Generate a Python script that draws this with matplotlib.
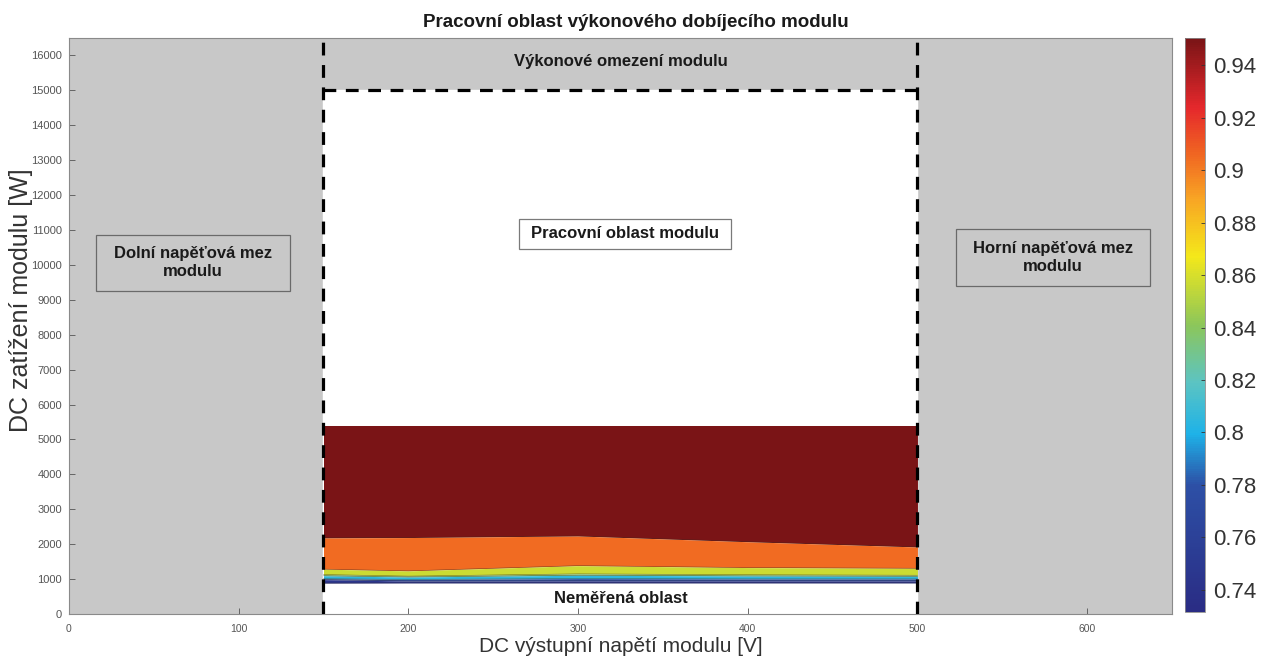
import numpy as np
import matplotlib
matplotlib.use("Agg")
import matplotlib.pyplot as plt
from matplotlib.colors import LinearSegmentedColormap, Normalize
from matplotlib.cm import ScalarMappable
from matplotlib.patches import Rectangle

plt.rcParams['font.family'] = ['Liberation Sans', 'DejaVu Sans']

# Measured operating points: output voltage [V]
voltage = [150, 200, 300, 400, 500]

# Efficiency bands: value of each band and its lower power boundary [W]
band_eff = [0.95, 0.905, 0.857, 0.835, 0.805, 0.78, 0.745]
band_top = [5400, 5400, 5400, 5400, 5400]
band_lower = [
    [2180, 2190, 2235, 2070, 1920],
    [1285, 1235, 1385, 1330, 1310],
    [1130, 1085, 1150, 1125, 1110],
    [1095, 1060, 1110, 1090, 1080],
    [1010, 990, 1015, 1005, 1005],
    [985, 945, 950, 950, 950],
    [885, 890, 890, 890, 890],
]

# Module limits
v_min, v_max = 150, 500
p_max = 15000
x_lim = (0, 650)
y_lim = (0, 16500)
eff_range = (0.7316, 0.9503)
cbar_ticks = [0.74, 0.76, 0.78, 0.80, 0.82, 0.84, 0.86, 0.88, 0.90, 0.92, 0.94]

cmap = LinearSegmentedColormap.from_list("eff", [
    (0.00, "#2a2c84"),
    (0.22, "#2d50a6"),
    (0.31, "#1eb2e8"),
    (0.40, "#5cc4c2"),
    (0.50, "#8cc65a"),
    (0.62, "#f4e81a"),
    (0.72, "#f8a524"),
    (0.80, "#f06522"),
    (0.88, "#e5282c"),
    (1.00, "#7a1416"),
])
norm = Normalize(*eff_range)

fig = plt.figure(figsize=(12.65, 6.6), dpi=100)
ax = fig.add_axes([0.0545, 0.0697, 0.872, 0.8727])
cax = fig.add_axes([0.9368, 0.0727, 0.0158, 0.8697])

grey = "#c8c8c8"
ax.set_xlim(*x_lim)
ax.set_ylim(*y_lim)
ax.set_facecolor(grey)

# working area (white) below the power limit
ax.fill_between([v_min, v_max], 0, p_max, color="white", zorder=1)

# efficiency bands
upper = band_top
for eff, lower in zip(band_eff, band_lower):
    ax.fill_between(voltage, lower, upper, color=cmap(norm(eff)), lw=0, zorder=2)
    ax.plot(voltage, lower, color="#3a2a20", lw=0.4, alpha=0.6, zorder=3)
    upper = lower

# boundaries of the operating area
dash = dict(color="black", lw=2.3, dashes=(4, 3), zorder=5)
ax.plot([v_min, v_min], [y_lim[0], y_lim[1]], **dash)
ax.plot([v_max, v_max], [y_lim[0], y_lim[1]], **dash)
ax.plot([v_min, v_max], [p_max, p_max], **dash)

txt = dict(ha="center", va="center", fontsize=12, fontweight="bold",
           color="#1a1a1a", zorder=7, linespacing=1.25)

# annotation boxes: (x0, y0, width, height)
ax.add_patch(Rectangle((265, 10460), 125, 860, fc="white", ec="#7a7a7a", lw=0.9, zorder=6))
ax.add_patch(Rectangle((16, 9255), 114, 1605, fc=grey, ec="#6a6a6a", lw=0.9, zorder=6))
ax.add_patch(Rectangle((523, 9400), 114, 1630, fc=grey, ec="#6a6a6a", lw=0.9, zorder=6))

ax.text(325, 15830, "Výkonové omezení modulu", **txt)
ax.text(325, 450, "Neměřená oblast", **txt)
ax.text(327.5, 10890, "Pracovní oblast modulu", **txt)
ax.text(73, 10060, "Dolní napěťová mez\nmodulu", **txt)
ax.text(580, 10215, "Horní napěťová mez\nmodulu", **txt)

ax.set_xticks(range(0, 601, 100))
ax.set_yticks(range(0, 16001, 1000))
ax.tick_params(axis="both", direction="in", colors="#555555",
               length=4, width=0.6, top=False, right=False)
ax.tick_params(axis="x", labelsize=7.5, pad=7)
ax.tick_params(axis="y", labelsize=8, pad=5)
for s in ax.spines.values():
    s.set_color("#8a8a8a")
    s.set_linewidth(0.8)

ax.set_xlabel("DC výstupní napětí modulu [V]", fontsize=15, color="#333333", va="center")
ax.xaxis.set_label_coords(0.5, -0.056)
ax.set_ylabel("DC zatížení modulu [W]", fontsize=18, color="#333333", va="center")
ax.yaxis.set_label_coords(-0.0435, 0.545)
ax.set_title("Pracovní oblast výkonového dobíjecího modulu", fontsize=13.5,
             fontweight="bold", color="#1a1a1a", pad=8, x=0.514)

cb = fig.colorbar(ScalarMappable(norm=norm, cmap=cmap), cax=cax)
cb.set_ticks(cbar_ticks)
cb.set_ticklabels([f"{t:g}" for t in cbar_ticks])
cb.ax.tick_params(labelsize=16, colors="#333333", direction="in", length=3,
                  width=0.6, pad=6)
cb.outline.set_edgecolor("#8a8a8a")
cb.outline.set_linewidth(0.6)

fig.savefig("out.png", dpi=100)
